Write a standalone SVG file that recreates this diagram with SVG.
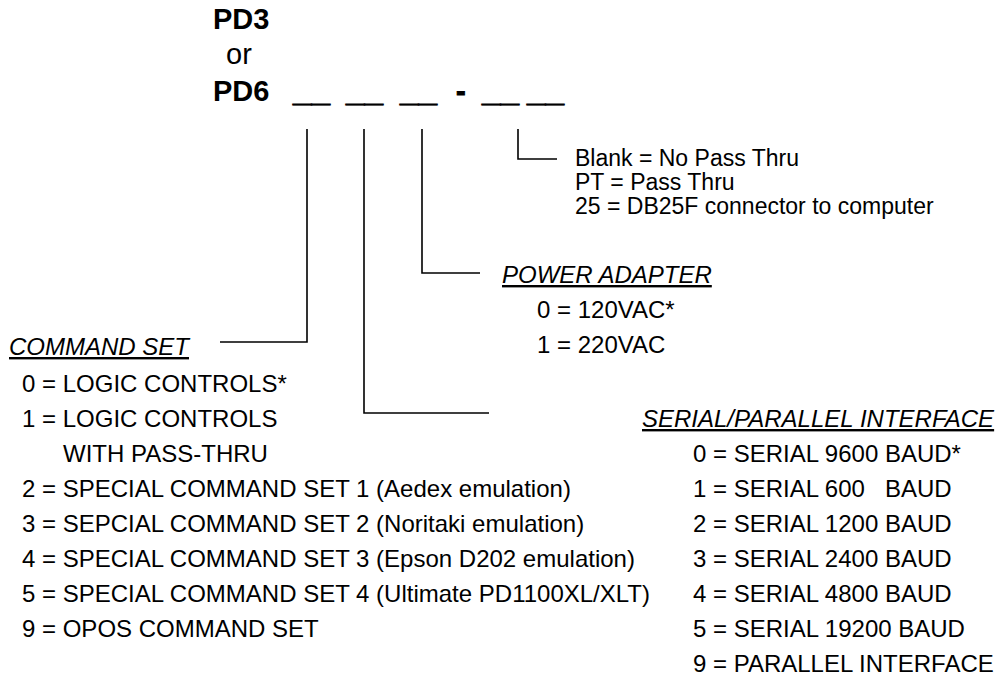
<svg xmlns="http://www.w3.org/2000/svg" width="1000" height="676" viewBox="0 0 1000 676">
  <style>
    text { font-family: "Liberation Sans", Arial, sans-serif; fill: #000; white-space: pre; }
    .t { font-size: 29px; }
    .b { font-weight: bold; }
    .u { stroke: #000; stroke-width: 0.9; }
    .s { font-size: 24px; }
    .p { font-size: 23px; }
    .h { font-size: 24px; font-style: italic; text-decoration: underline; }
    .c { fill: none; stroke: #000; stroke-width: 1.6; }
  </style>
  <rect width="1000" height="676" fill="#fff"/>
  <g id="title">
    <text class="t b" x="213" y="29">PD3</text>
    <text class="t" x="226" y="64">or</text>
    <text class="t b" x="213" y="101">PD6</text>
    <text class="t b u" x="293" y="102" textLength="37" lengthAdjust="spacingAndGlyphs">__</text>
    <text class="t b u" x="346" y="102" textLength="37" lengthAdjust="spacingAndGlyphs">__</text>
    <text class="t b u" x="400" y="102" textLength="37" lengthAdjust="spacingAndGlyphs">__</text>
    <text class="t b u" x="456" y="101">-</text>
    <text class="t b u" x="482" y="102" textLength="37" lengthAdjust="spacingAndGlyphs">__</text>
    <text class="t b u" x="527" y="102" textLength="37" lengthAdjust="spacingAndGlyphs">__</text>
  </g>
  <g id="connectors">
    <path class="c" d="M307,129 V342 H220"/>
    <path class="c" d="M364,129 V413 H489"/>
    <path class="c" d="M422,129 V273 H480"/>
    <path class="c" d="M518,129 V159 H557"/>
  </g>
  <g id="pass-thru">
    <text class="p" x="575" y="166">Blank = No Pass Thru</text>
    <text class="p" x="575" y="190">PT = Pass Thru</text>
    <text class="p" x="575" y="214">25 = DB25F connector to computer</text>
  </g>
  <g id="power-adapter">
    <text class="h" x="502" y="283">POWER ADAPTER</text>
    <text class="s" x="537" y="318">0 = 120VAC*</text>
    <text class="s" x="537" y="353">1 = 220VAC</text>
  </g>
  <g id="command-set">
    <text class="h" x="9" y="355">COMMAND SET</text>
    <text class="s" x="22" y="392">0 = LOGIC CONTROLS*</text>
    <text class="s" x="22" y="427">1 = LOGIC CONTROLS</text>
    <text class="s" x="63" y="462">WITH PASS-THRU</text>
    <text class="s" x="22" y="497">2 = SPECIAL COMMAND SET 1 (Aedex emulation)</text>
    <text class="s" x="22" y="532">3 = SEPCIAL COMMAND SET 2 (Noritaki emulation)</text>
    <text class="s" x="22" y="567">4 = SPECIAL COMMAND SET 3 (Epson D202 emulation)</text>
    <text class="s" x="22" y="602">5 = SPECIAL COMMAND SET 4 (Ultimate PD1100XL/XLT)</text>
    <text class="s" x="22" y="637">9 = OPOS COMMAND SET</text>
  </g>
  <g id="serial-parallel-interface">
    <text class="h" x="642" y="427">SERIAL/PARALLEL INTERFACE</text>
    <text class="s" x="693" y="462">0 = SERIAL 9600 BAUD*</text>
    <text class="s" x="693" y="497">1 = SERIAL 600   BAUD</text>
    <text class="s" x="693" y="532">2 = SERIAL 1200 BAUD</text>
    <text class="s" x="693" y="567">3 = SERIAL 2400 BAUD</text>
    <text class="s" x="693" y="602">4 = SERIAL 4800 BAUD</text>
    <text class="s" x="693" y="637">5 = SERIAL 19200 BAUD</text>
    <text class="s" x="693" y="672">9 = PARALLEL INTERFACE</text>
  </g>
</svg>
